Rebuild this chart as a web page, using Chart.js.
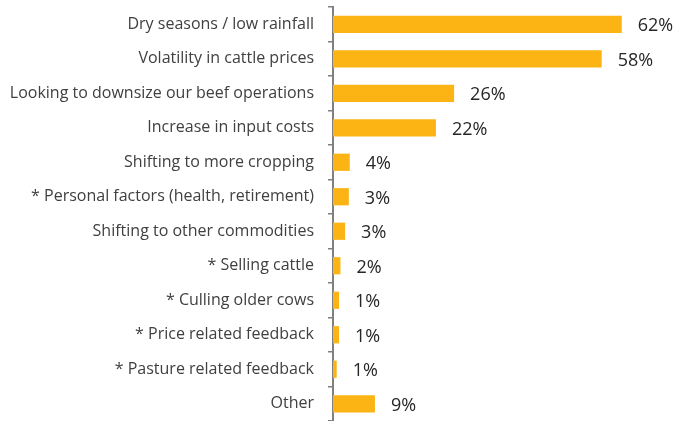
<!DOCTYPE html>
<html>
<head>
<meta charset="utf-8">
<script src="https://cdn.jsdelivr.net/npm/chart.js@4"></script>
<style>
    html, body { margin: 0; padding: 0; background: #fff; }
    #wrap { width: 677px; height: 421px; }
</style>
</head>
<body>
<div id="wrap"><canvas id="reasonChart"></canvas></div>
<script>
// Reasons for reducing herd size (% of respondents)
const categories = [
    'Dry seasons / low rainfall',
    'Volatility in cattle prices',
    'Looking to downsize our beef operations',
    'Increase in input costs',
    'Shifting to more cropping',
    '* Personal factors (health, retirement)',
    'Shifting to other commodities',
    '* Selling cattle',
    '* Culling older cows',
    '* Price related feedback',
    '* Pasture related feedback',
    'Other'
];
const shares = [62, 57.7, 26, 22.1, 3.6, 3.4, 2.6, 1.6, 1.3, 1.3, 0.8, 9.0];
const valueLabels = ['62%', '58%', '26%', '22%', '4%', '3%', '3%', '2%', '1%', '1%', '1%', '9%'];

const AXIS_X = 333;

// draws the percentage to the right of each bar
const valueLabelPlugin = {
    id: 'valueLabels',
    afterDatasetsDraw(chart) {
        const ctx = chart.ctx;
        const meta = chart.getDatasetMeta(0);
        ctx.save();
        ctx.font = '18px "Open Sans", sans-serif';
        ctx.fillStyle = '#262626';
        ctx.textAlign = 'left';
        ctx.textBaseline = 'middle';
        meta.data.forEach(function (bar, i) {
            ctx.fillText(valueLabels[i], bar.x + 16, bar.y + 2);
        });
        ctx.restore();
    }
};

new Chart(document.getElementById('reasonChart'), {
    type: 'bar',
    data: {
        labels: categories,
        datasets: [{
            data: shares,
            backgroundColor: '#FCB415',
            borderWidth: 0,
            categoryPercentage: 1.0,
            barPercentage: 0.5
        }]
    },
    options: {
        indexAxis: 'y',
        responsive: true,
        maintainAspectRatio: false,
        animation: false,
        layout: { padding: { top: 7, right: 18, bottom: 0, left: 0 } },
        plugins: {
            legend: { display: false },
            tooltip: { enabled: false }
        },
        scales: {
            x: {
                display: false,
                min: 0,
                max: 70
            },
            y: {
                afterFit: function (scale) {
                    scale.width = AXIS_X;
                    scale.paddingTop = 0;
                    scale.paddingBottom = 0;
                },
                border: { display: true, color: '#808080', width: 2 },
                grid: {
                    offset: true,
                    drawOnChartArea: false,
                    color: '#808080',
                    lineWidth: 1.5,
                    tickLength: 5
                },
                ticks: {
                    color: '#404040',
                    padding: 14,
                    font: { family: '"Open Sans", sans-serif', size: 16 }
                }
            }
        }
    },
    plugins: [valueLabelPlugin]
});
</script>
</body>
</html>
